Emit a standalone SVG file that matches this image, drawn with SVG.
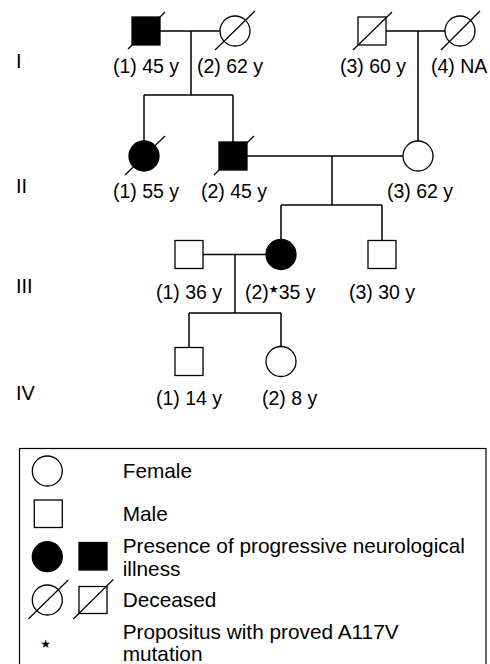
<svg xmlns="http://www.w3.org/2000/svg" width="490" height="664" viewBox="0 0 490 664">
<style>
.ln{stroke:#000;stroke-width:1.5;fill:none}
.sym{stroke:#000;stroke-width:1.3;fill:#fff}
.aff{stroke:#000;stroke-width:1.3;fill:#000}
.sl{stroke:#000;stroke-width:1.2}
text{font-family:"Liberation Sans",Arial,sans-serif;fill:#000}
.lb{font-size:19.5px}
.gen{font-size:20px}
.lg{font-size:20.8px}
.st{font-family:"DejaVu Sans",sans-serif}
</style>
<rect width="490" height="664" fill="#fff"/>
<g id="generations" class="gen">
<text x="16" y="67.5">I</text>
<text x="16" y="193">II</text>
<text x="16" y="293">III</text>
<text x="16" y="400">IV</text>
</g>
<g id="connectors" class="ln">
<path d="M160 31H220M191 31V95M144 95H233M144 95V141M233 95V142"/>
<path d="M386 31H445M418 31V141"/>
<path d="M247 156H403M332 156V205M281 205H382M281 205V239.5M382 205V240.5"/>
<path d="M203 254.5H266M235 254.5V313M189 313H281M189 313V347.5M281 313V346.5"/>
</g>
<g id="I-1"><rect class="aff" x="132" y="17" width="28" height="28"/><line class="sl" x1="128" y1="49" x2="165" y2="12"/><text class="lb" x="113" y="72.5">(1) 45 y</text></g>
<g id="I-2"><circle class="sym" cx="235" cy="31" r="15"/><line class="sl" x1="215" y1="50" x2="255" y2="11"/><text class="lb" x="197" y="72.5">(2) 62 y</text></g>
<g id="I-3"><rect class="sym" x="358" y="17" width="28" height="28"/><line class="sl" x1="353" y1="50" x2="392" y2="12"/><text class="lb" x="340" y="72.5">(3) 60 y</text></g>
<g id="I-4"><circle class="sym" cx="460" cy="31" r="15"/><line class="sl" x1="441" y1="50" x2="480" y2="11"/><text class="lb" x="431" y="72.5">(4) NA</text></g>
<g id="II-1"><circle class="aff" cx="144" cy="156" r="15"/><line class="sl" x1="125" y1="175" x2="165" y2="136"/><text class="lb" x="113" y="198">(1) 55 y</text></g>
<g id="II-2"><rect class="aff" x="219" y="142" width="28" height="28"/><line class="sl" x1="214" y1="175" x2="254" y2="136"/><text class="lb" x="201" y="198">(2) 45 y</text></g>
<g id="II-3"><circle class="sym" cx="418" cy="156" r="15"/><text class="lb" x="387" y="198">(3) 62 y</text></g>
<g id="III-1"><rect class="sym" x="175" y="240.5" width="28" height="28"/><text class="lb" x="156" y="299">(1) 36 y</text></g>
<g id="III-2"><circle class="aff" cx="281" cy="254.5" r="15"/><text class="lb" x="245" y="299">(2)<tspan class="st" font-size="11" dy="-6">★</tspan><tspan dy="6">35 y</tspan></text></g>
<g id="III-3"><rect class="sym" x="368" y="240.5" width="28" height="28"/><text class="lb" x="349" y="299">(3) 30 y</text></g>
<g id="IV-1"><rect class="sym" x="175" y="347.5" width="28" height="28"/><text class="lb" x="156" y="405">(1) 14 y</text></g>
<g id="IV-2"><circle class="sym" cx="281" cy="361.5" r="15"/><text class="lb" x="262" y="405">(2) 8 y</text></g>
<g id="legend">
<rect x="19.5" y="448.5" width="466.5" height="220" fill="none" stroke="#000" stroke-width="1.2"/>
<circle class="sym" cx="47.3" cy="471" r="15"/>
<text class="lg" x="122.7" y="478">Female</text>
<rect class="sym" x="34.3" y="500" width="28" height="27.5"/>
<text class="lg" x="122.7" y="520.7">Male</text>
<circle class="aff" cx="47.3" cy="556.7" r="15"/>
<rect class="aff" x="79" y="542.5" width="28" height="27.5"/>
<text class="lg" x="122.7" y="553.3">Presence of progressive neurological</text>
<text class="lg" x="122.7" y="576">illness</text>
<circle class="sym" cx="47.3" cy="600" r="15"/>
<line class="sl" x1="28.3" y1="619" x2="68.3" y2="580"/>
<rect class="sym" x="79" y="586.5" width="28" height="27"/>
<line class="sl" x1="73.3" y1="619" x2="113.3" y2="579.5"/>
<text class="lg" x="122.7" y="607.3">Deceased</text>
<text class="st" x="45.7" y="648" font-size="12" text-anchor="middle">★</text>
<text class="lg" x="122.7" y="638.5">Propositus with proved A117V</text>
<text class="lg" x="122.7" y="660.7">mutation</text>
</g>
</svg>
